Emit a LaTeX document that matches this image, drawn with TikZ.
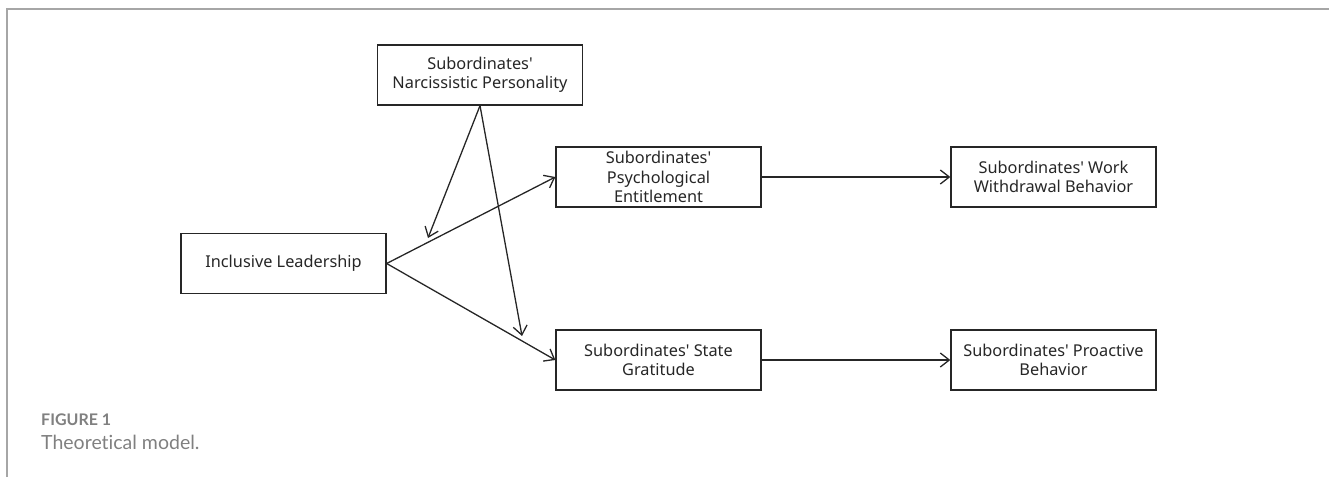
\documentclass[tikz,border=0pt]{standalone}
\usepackage{fontspec}
\setmainfont{Noto Sans}
\newfontfamily\capfont{Lato}[Ligatures=NoCommon]
\usetikzlibrary{arrows.meta}
\newcommand\ap{\textquotesingle}
\begin{document}
\begin{tikzpicture}[x=1pt,y=-1pt,
  box/.style={draw=black!85,line width=1.3pt,minimum width=205pt,minimum height=60pt,inner sep=0pt,align=center,font=\fontsize{16.3}{19.5}\selectfont,text=black!85},
  arr/.style={line width=1.3pt,draw=black!85,-{Straight Barb[length=9pt,width=14pt,line width=1.3pt]}}]
\useasboundingbox (0,0) rectangle (1329,477);
\draw[gray!70,line width=2pt] (7,477) -- (7,9) -- (1329,9);
\node[box] (np) at (480,75) {Subordinates\ap\\Narcissistic Personality};
\node[box] (pe) at (658.5,177) {Subordinates\ap\\Psychological\\Entitlement};
\node[box] (ww) at (1053.5,177) {Subordinates\ap{} Work\\Withdrawal Behavior};
\node[box] (il) at (283.5,263.5) {Inclusive Leadership};
\node[box] (sg) at (658.5,360) {Subordinates\ap{} State\\Gratitude};
\node[box] (pa) at (1053.5,360) {Subordinates\ap{} Proactive\\Behavior};
\coordinate (m1) at (428,238);
\coordinate (m2) at (522,336);
\draw[arr] (il.east) -- (pe.west);
\draw[arr] (il.east) -- (sg.west);
\draw[arr] (np.south) -- (m1);
\draw[arr] (np.south) -- (m2);
\draw[arr] (pe.east) -- (ww.west);
\draw[arr] (sg.east) -- (pa.west);
\node[anchor=base west,inner sep=0pt,text=gray,font=\capfont\bfseries\fontsize{16}{18}\selectfont] (fig) at (41,425) {FIGURE 1};
\node[anchor=base west,inner sep=0pt,text=gray,font=\capfont\fontsize{19.5}{22}\selectfont] (cap) at (41,449) {Theoretical model.};
\end{tikzpicture}
\end{document}
